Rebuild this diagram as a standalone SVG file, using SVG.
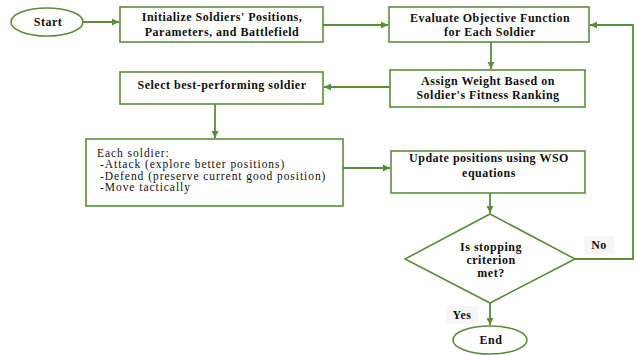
<svg xmlns="http://www.w3.org/2000/svg" width="637" height="355" viewBox="0 0 637 355">
<defs>
<marker id="ah" markerWidth="8" markerHeight="8" refX="7" refY="4" orient="auto" markerUnits="userSpaceOnUse">
<path d="M0,0.5 L7,4 L0,7.5 Z" fill="#5b8c3a"/>
</marker>
<style>
.box{fill:#fff;stroke:#5b8c3a;stroke-width:1.6}
.ln{fill:none;stroke:#5b8c3a;stroke-width:1.8}
text{font-family:"Liberation Serif","Times New Roman","DejaVu Serif",serif}
.b{font-weight:bold;font-size:12px;letter-spacing:0.5px;fill:#111;text-anchor:middle}
.n{font-size:11.5px;letter-spacing:0.95px;fill:#111}
.lbl{fill:#f6f6f6}
</style>
</defs>
<rect width="637" height="355" fill="#fff"/>
<g id="connectors">
<line class="ln" x1="83" y1="22" x2="119" y2="22" marker-end="url(#ah)"/>
<line class="ln" x1="323" y1="25" x2="388" y2="25" marker-end="url(#ah)"/>
<line class="ln" x1="491" y1="42" x2="491" y2="69" marker-end="url(#ah)"/>
<line class="ln" x1="390" y1="87" x2="324" y2="87" marker-end="url(#ah)"/>
<line class="ln" x1="215" y1="104" x2="215" y2="138" marker-end="url(#ah)"/>
<line class="ln" x1="343" y1="168" x2="390" y2="168" marker-end="url(#ah)"/>
<line class="ln" x1="490" y1="193" x2="490" y2="213" marker-end="url(#ah)"/>
<polyline class="ln" points="575,259 633,259 633,25 590,25" marker-end="url(#ah)"/>
<line class="ln" x1="490" y1="303" x2="490" y2="325" marker-end="url(#ah)"/>
<rect class="lbl" x="584" y="236" width="30" height="18"/>
<text class="b" x="599" y="249">No</text>
<rect class="lbl" x="446" y="306" width="32" height="18"/>
<text class="b" x="462" y="319">Yes</text>
</g>
<g id="start">
<ellipse class="box" cx="47" cy="22" rx="36" ry="14"/>
<text class="b" x="48" y="26">Start</text>
</g>
<g id="init">
<rect class="box" x="120" y="7" width="203" height="35"/>
<text class="b" x="222" y="21">Initialize Soldiers' Positions,</text>
<text class="b" x="222" y="36">Parameters, and Battlefield</text>
</g>
<g id="evaluate">
<rect class="box" x="389" y="7" width="200" height="35"/>
<text class="b" x="490" y="22">Evaluate Objective Function</text>
<text class="b" x="490" y="36">for Each Soldier</text>
</g>
<g id="assign">
<rect class="box" x="390" y="70" width="195" height="37"/>
<text class="b" x="488" y="85">Assign Weight Based on</text>
<text class="b" x="488" y="99">Soldier's Fitness Ranking</text>
</g>
<g id="select">
<rect class="box" x="120" y="72" width="203" height="32"/>
<text class="b" x="222" y="89">Select best-performing soldier</text>
</g>
<g id="each">
<rect class="box" x="86" y="139" width="257" height="67"/>
<text class="n" x="97" y="157">Each soldier:</text>
<text class="n" x="100" y="168">-Attack (explore better positions)</text>
<text class="n" x="100" y="180">-Defend (preserve current good position)</text>
<text class="n" x="100" y="191">-Move tactically</text>
</g>
<g id="update">
<rect class="box" x="391" y="151" width="194" height="42"/>
<text class="b" x="489" y="162">Update positions using WSO</text>
<text class="b" x="489" y="177">equations</text>
</g>
<g id="decision">
<polygon class="box" points="490,214 575,259 490,303 405,259"/>
<text class="b" x="491" y="251">Is stopping</text>
<text class="b" x="491" y="264">criterion</text>
<text class="b" x="491" y="277">met?</text>
</g>
<g id="end">
<ellipse class="box" cx="490" cy="340" rx="37" ry="14"/>
<text class="b" x="491" y="344">End</text>
</g>
</svg>
